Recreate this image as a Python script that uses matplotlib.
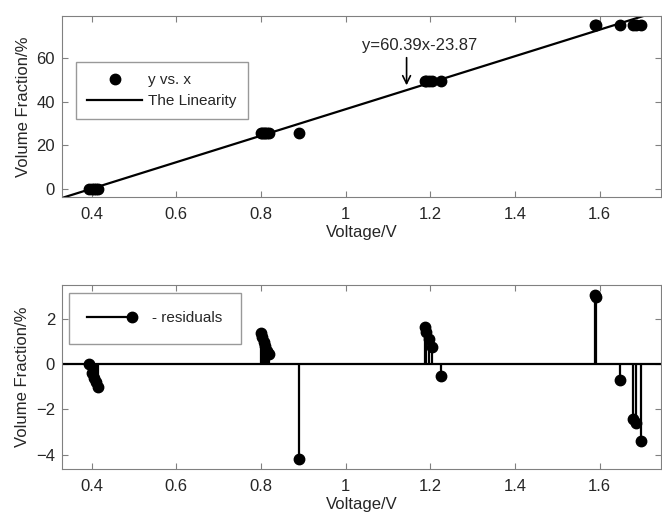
import matplotlib
matplotlib.use("Agg")
import matplotlib.pyplot as plt
from matplotlib.lines import Line2D
from matplotlib.legend_handler import HandlerLine2D
import numpy as np

plt.rcParams['font.family'] = ['Liberation Sans', 'DejaVu Sans']
plt.rcParams['font.size'] = 12

# measured points (voltage, volume fraction)
volt = [0.394, 0.400, 0.405, 0.410, 0.414,
        0.800, 0.803, 0.806, 0.810, 0.815, 0.819, 0.891,
        1.188, 1.191, 1.198, 1.205, 1.226,
        1.589, 1.591, 1.649, 1.680, 1.685, 1.697]
frac = [0.0, 0.0, 0.0, 0.0, 0.0,
        25.8, 25.8, 25.8, 25.8, 25.8, 25.8, 25.7,
        49.6, 49.6, 49.6, 49.6, 49.6,
        75.1, 75.1, 75.1, 75.1, 75.1, 75.1]
resid = [0.0, -0.4, -0.6, -0.8, -1.0,
         1.40, 1.20, 1.00, 0.80, 0.60, 0.46, -4.17,
         1.65, 1.43, 1.10, 0.78, -0.52,
         3.05, 2.95, -0.70, -2.43, -2.58, -3.38]

slope, intercept = 60.39, -23.87
xlim = (0.33, 1.745)
xticks = [0.4, 0.6, 0.8, 1.0, 1.2, 1.4, 1.6]
xticklabels = ['0.4', '0.6', '0.8', '1', '1.2', '1.4', '1.6']

spine_c = '#808080'
text_c = '#262626'


class EndMarker(HandlerLine2D):
    # legend line with the marker sitting at its right end
    def create_artists(self, *args, **kwargs):
        arts = super().create_artists(*args, **kwargs)
        arts[0].set_markevery([2])
        return arts


fig = plt.figure(figsize=(6.62, 5.13), dpi=100)
ax1 = fig.add_axes([62/662, 1-197/513, (661-62)/662, (197-16)/513])
ax2 = fig.add_axes([62/662, 1-469/513, (661-62)/662, (469-285)/513])

def style(ax):
    for s in ax.spines.values():
        s.set_color(spine_c)
    ax.tick_params(direction='in', top=True, right=True, colors=spine_c,
                   labelcolor=text_c, length=4, labelsize=12)
    ax.tick_params(axis='x', pad=7)
    ax.tick_params(axis='y', pad=5)
    ax.set_xlim(*xlim)
    ax.set_xticks(xticks)
    ax.set_xticklabels(xticklabels)
    ax.set_xlabel('Voltage/V', color=text_c, fontsize=12, labelpad=2)
    ax.set_ylabel('Volume Fraction/%', color=text_c, fontsize=12, labelpad=4)

# top: data and fit
lx = np.array(xlim)
ax1.plot(volt, frac, 'o', color='k', ms=7.5, label='y vs. x')
ax1.plot(lx, slope*lx + intercept, '-', color='k', lw=1.6, label='The Linearity')
ax1.set_ylim(-3.5, 79)
ax1.set_yticks([0, 20, 40, 60])
style(ax1)
leg = ax1.legend(loc='upper left', bbox_to_anchor=(0.0234, 0.746), borderaxespad=0,
                 frameon=True, fancybox=False, edgecolor=spine_c, fontsize=11,
                 handlelength=3.6, borderpad=0.72, labelspacing=0.45, handletextpad=0.4)
leg.get_frame().set_linewidth(1.0)
for t in leg.get_texts():
    t.set_color(text_c)

ax1.text(1.175, 65.5, 'y=60.39x-23.87', ha='center', va='center',
         fontsize=12, color=text_c)
ax1.annotate('', xy=(1.144, 47.4), xytext=(1.144, 60),
             arrowprops=dict(arrowstyle='->', color='k', lw=1.2,
                             shrinkA=0, shrinkB=0, mutation_scale=14))

# bottom: residuals
ml, sl, bl = ax2.stem(volt, resid, linefmt='k-', markerfmt='ko', basefmt='k-')
ml.set_markersize(7.5)
sl.set_linewidth(1.6)
bl.set_linewidth(1.6)
bl.set_xdata(list(xlim))
ax2.set_ylim(-4.63, 3.5)
ax2.set_yticks([-4, -2, 0, 2])
style(ax2)
h = Line2D([], [], color='k', marker='o', ms=7.5, lw=1.6)
leg2 = ax2.legend(handles=[h], labels=['- residuals'], loc='upper left',
                  bbox_to_anchor=(0.0117, 0.9565), borderaxespad=0, frameon=True,
                  fancybox=False, edgecolor=spine_c, fontsize=11, borderpad=1.2,
                  handlelength=2.95, handletextpad=1.3,
                  handler_map={h: EndMarker()})
leg2.get_frame().set_linewidth(1.0)
for t in leg2.get_texts():
    t.set_color(text_c)

fig.savefig('out.png', dpi=100)
